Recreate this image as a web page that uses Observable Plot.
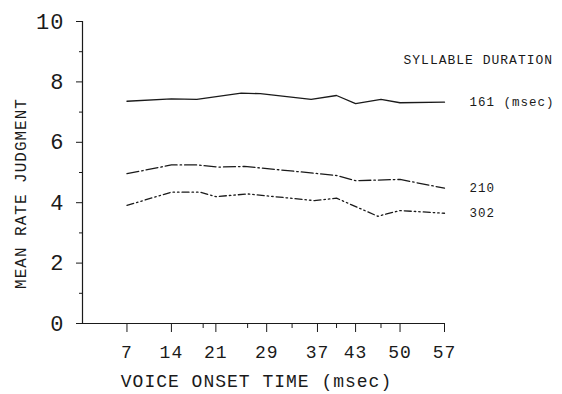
<!DOCTYPE html>
<html>
<head>
<meta charset="utf-8">
<script src="https://cdn.jsdelivr.net/npm/d3@7"></script>
<script src="https://cdn.jsdelivr.net/npm/@observablehq/plot@0.6"></script>
<style>
  html, body { margin: 0; padding: 0; background: #fff; }
  svg text { letter-spacing: 1px; }
</style>
</head>
<body>
<div id="chart"></div>
<script>
// Voice onset time (msec) tick labels
const xTicks = [7, 14, 21, 29, 37, 43, 50, 57];
const xMinorTicks = [19, 26, 33, 40, 47];
const yTicks = [0, 2, 4, 6, 8, 10];
const yMinorTicks = [1, 3, 5, 7, 9];

// Syllable duration 161 msec
const vot161 = [7, 14, 18, 25, 28, 36, 40, 43, 47, 50, 57];
const rate161 = [7.36, 7.44, 7.42, 7.63, 7.61, 7.42, 7.55, 7.28, 7.42, 7.31, 7.33];
// Syllable duration 210 msec
const vot210 = [7, 14, 18, 21.5, 25.5, 31, 40, 43, 50, 57];
const rate210 = [4.96, 5.25, 5.25, 5.18, 5.2, 5.09, 4.9, 4.73, 4.77, 4.48];
// Syllable duration 302 msec
const vot302 = [7, 14, 18.5, 21, 26, 36.5, 40, 46.5, 50, 57];
const rate302 = [3.91, 4.35, 4.35, 4.2, 4.29, 4.07, 4.15, 3.55, 3.74, 3.65];

const seriesLabels = ["161 (msec)", "210", "302"];

const mk = (xs, ys) => xs.map((x, i) => ({x, y: ys[i]}));
const d161 = mk(vot161, rate161);
const d210 = mk(vot210, rate210);
const d302 = mk(vot302, rate302);
const ends = [d161, d210, d302].map((d, i) => ({...d[d.length - 1], label: seriesLabels[i]}));

const font = "Liberation Mono, DejaVu Sans Mono, monospace";
const ink = "#1a1a1a";

const chart = Plot.plot({
  width: 562,
  height: 394,
  marginLeft: 82,
  marginRight: 118,
  marginTop: 21,
  marginBottom: 71,
  style: {fontFamily: font, color: ink, background: "#fff"},
  x: {domain: [0, 57]},
  y: {domain: [0, 10]},
  marks: [
    Plot.axisY({ticks: yTicks, tickSize: 6, tickPadding: 12, fontSize: 22, label: null, stroke: ink}),
    Plot.axisY({ticks: yMinorTicks, tickSize: 3, tickFormat: () => "", label: null, stroke: ink}),
    Plot.axisX({ticks: xTicks, tickSize: 9, tickPadding: 13, fontSize: 18, label: null, stroke: ink}),
    Plot.axisX({ticks: xMinorTicks, tickSize: 5, tickFormat: () => "", label: null, stroke: ink}),
    Plot.ruleX([0], {y1: 0, y2: 10, stroke: ink, strokeWidth: 1.2}),
    Plot.ruleY([0], {x1: 0, x2: 57, stroke: ink, strokeWidth: 1.2}),
    Plot.line(d161, {x: "x", y: "y", stroke: ink, strokeWidth: 1.3}),
    Plot.line(d210, {x: "x", y: "y", stroke: ink, strokeWidth: 1.3, strokeDasharray: "12,3,1.5,3"}),
    Plot.line(d302, {x: "x", y: "y", stroke: ink, strokeWidth: 1.3, strokeDasharray: "7,3,1.5,3,1.5,3"}),
    Plot.text(ends, {x: "x", y: "y", text: "label", dx: 25, textAnchor: "start", fontSize: 12.5, fill: ink}),
    Plot.text(["SYLLABLE DURATION"], {frameAnchor: "top-right", textAnchor: "start", dx: -41, dy: 33, fontSize: 13, fill: ink}),
    Plot.text(["VOICE ONSET TIME (msec)"], {frameAnchor: "bottom", textAnchor: "middle", dx: -7, dy: 63, fontSize: 18, fill: ink}),
    Plot.text(["MEAN RATE JUDGMENT"], {frameAnchor: "left", textAnchor: "middle", lineAnchor: "middle", rotate: -90, dx: -62, dy: 21, fontSize: 16, fill: ink})
  ]
});
document.getElementById("chart").appendChild(chart);
</script>
</body>
</html>
